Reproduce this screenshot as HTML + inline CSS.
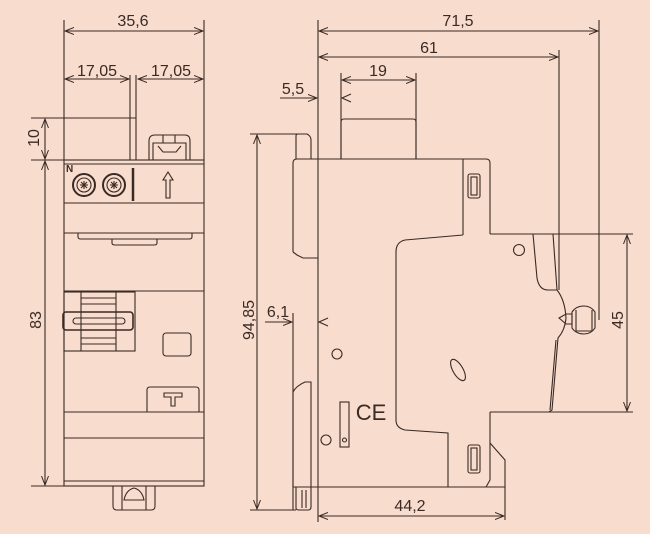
<!DOCTYPE html>
<html><head><meta charset="utf-8"><style>
html,body{margin:0;padding:0;background:#f8dccd;overflow:hidden}
svg{display:block}
text{font-family:"Liberation Sans",sans-serif;fill:#3a2a25;font-size:16px}
</style></head><body>
<svg width="650" height="534" viewBox="0 0 650 534" xmlns="http://www.w3.org/2000/svg">
<defs>
<marker id="a" markerWidth="10" markerHeight="8" refX="9" refY="4" orient="auto-start-reverse" markerUnits="userSpaceOnUse">
<path d="M0,0.5 L9,4 L0,7.5" fill="none" stroke="#3a2a25" stroke-width="1"/></marker>
</defs>
<rect width="650" height="534" fill="#f8dccd"/>
<g stroke="#3a2a25" stroke-width="1.1" fill="none">
<line x1="64" y1="20" x2="64" y2="160"/>
<line x1="204" y1="20" x2="204" y2="160"/>
<line x1="65" y1="31" x2="203" y2="31" marker-start="url(#a)" marker-end="url(#a)"/>
<line x1="65" y1="79" x2="129" y2="79" marker-start="url(#a)" marker-end="url(#a)"/>
<line x1="138" y1="79" x2="203" y2="79" marker-start="url(#a)" marker-end="url(#a)"/>
<line x1="130" y1="75" x2="130" y2="160"/>
<line x1="136" y1="75" x2="136" y2="160"/>
<line x1="31" y1="118" x2="136" y2="118"/>
<line x1="31" y1="160" x2="64" y2="160"/>
<line x1="31" y1="486" x2="64" y2="486"/>
<line x1="45" y1="119" x2="45" y2="159" marker-start="url(#a)" marker-end="url(#a)"/>
<line x1="45" y1="161" x2="45" y2="485" marker-start="url(#a)" marker-end="url(#a)"/>
<rect x="64" y="160" width="140" height="326"/>
<line x1="64" y1="164" x2="204" y2="164"/>
<line x1="64" y1="203" x2="204" y2="203"/>
<line x1="64" y1="233" x2="204" y2="233"/>
<path d="M78,233 V237 Q78,239 81,239 H189 Q192,239 192,237 V233"/>
<path d="M112,239 V243 Q112,245 115,245 H154 Q157,245 157,243 V239"/>
<circle cx="84" cy="185" r="11" stroke-width="2"/>
<circle cx="84" cy="185" r="7"/>
<circle cx="114" cy="185" r="11" stroke-width="2"/>
<circle cx="114" cy="185" r="7"/>
<path d="M80,185 H88 M84,181 V189 M81,182 L87,188 M87,182 L81,188 M110,185 H118 M114,181 V189 M111,182 L117,188 M117,182 L111,188"/>
<line x1="133" y1="168" x2="133" y2="201" stroke-width="2.5"/>
<path d="M168,172 L163,180 H166 V198 H170 V180 H173 Z"/>
<path d="M149,160 V141 Q149,135 155,135 H185 Q190,135 190,141 V160 M153,160 V143 H186 V160 M163,135 V143 M175,135 V143 M158,146 L163,152 H176 L181,146"/>
<line x1="64" y1="291" x2="204" y2="291"/>
<rect x="64" y="292" width="71" height="59"/>
<path d="M81,292 V351 M116,292 V351 M81,298 H116 M81,304 H116 M81,338 H116 M81,344 H116"/>
<rect x="63" y="312" width="70" height="18" rx="3" stroke-width="1.6"/>
<rect x="73" y="318" width="52" height="6" rx="3"/>
<rect x="163" y="333" width="28" height="23" rx="3"/>
<path d="M147,412 V390 Q147,387 150,387 H196 Q199,387 199,390 V412"/>
<path d="M164,393 H182 V397 H175 V406 H171 V397 H164 Z"/>
<line x1="64" y1="412" x2="204" y2="412"/>
<line x1="64" y1="438" x2="204" y2="438"/>
<line x1="64" y1="481" x2="204" y2="481"/>
<path d="M113,486 V506 Q113,510 117,510 H151 Q155,510 155,506 V486 M122,486 V510 M146,486 V510 M124,500 Q126,490 134,488 Q142,490 144,500 Z"/>

<line x1="318" y1="20" x2="318" y2="522"/>
<line x1="599" y1="20" x2="599" y2="320"/>
<line x1="559" y1="50" x2="559" y2="290"/>
<line x1="319" y1="31" x2="598" y2="31" marker-start="url(#a)" marker-end="url(#a)"/>
<line x1="319" y1="57" x2="558" y2="57" marker-start="url(#a)" marker-end="url(#a)"/>
<line x1="341" y1="73" x2="341" y2="159"/>
<line x1="416" y1="73" x2="416" y2="159"/>
<line x1="342" y1="80" x2="415" y2="80" marker-start="url(#a)" marker-end="url(#a)"/>
<line x1="280" y1="98" x2="317" y2="98" marker-end="url(#a)"/>
<path d="M351,94 L342,98 L351,102"/>
<path d="M341,159 V122 Q341,119 344,119 H413 Q416,119 416,122 V159"/>
<line x1="250" y1="134" x2="300" y2="134"/>
<line x1="250" y1="510" x2="296" y2="510"/>
<line x1="257" y1="135" x2="257" y2="509" marker-start="url(#a)" marker-end="url(#a)"/>
<line x1="265" y1="322" x2="292" y2="322" marker-end="url(#a)"/>
<path d="M328,318 L319,322 L328,326"/>
<line x1="293" y1="313" x2="293" y2="510"/>
<line x1="490" y1="234" x2="633" y2="234"/>
<line x1="549" y1="412" x2="633" y2="412"/>
<line x1="627" y1="235" x2="627" y2="411" marker-start="url(#a)" marker-end="url(#a)"/>
<line x1="505" y1="487" x2="505" y2="520"/>
<line x1="319" y1="516" x2="504" y2="516" marker-start="url(#a)" marker-end="url(#a)"/>
<path d="M293,252 V163 Q293,159 297,159 H486 Q490,159 490,163 V234"/>
<path d="M296,159 V136 Q296,134 298,134 H307 Q311,136 311,140 V159"/>
<path d="M293,252 L297,255 L303,258 H318"/>
<path d="M293,487 V392 Q296,386 305,382 L311,382 V487"/>
<path d="M296,487 V508 Q296,510 299,510 H308 Q311,510 311,507 V487 M302,490 V508 M306,490 V508"/>
<line x1="293" y1="487" x2="505" y2="487"/>
<line x1="463" y1="159" x2="463" y2="235"/>
<path d="M463,235 L405,240 Q396,242 396,252 V420 Q396,428 405,430 L448,433 V487"/>
<path d="M490,412 H549"/>
<path d="M490,412 V480 L486,487"/>
<path d="M490,443 L505,460 V487"/>
<rect x="468" y="174" width="12" height="24" rx="2"/>
<rect x="471" y="177" width="6" height="18"/>
<rect x="468" y="445" width="12" height="28" rx="2"/>
<rect x="471" y="448" width="6" height="22"/>
<path d="M533,234 L537,278 Q539,290 548,290 H557"/>
<path d="M553,234 L557,290 Q565,300 566,318 Q565,330 558,338 L552,410 L549,412"/>
<path d="M556,340 L550,410"/>
<path d="M559,318 L566,314 H572 V324 H566 Z"/>
<path d="M572,312 Q576,306 584,306 Q591,306 595,312 V328 Q591,334 584,334 Q576,334 572,328 Z"/>
<path d="M576,310 V331 H592 V310"/>
<circle cx="519" cy="250" r="5.5"/>
<circle cx="337" cy="354" r="5"/>
<circle cx="326" cy="440" r="5"/>
<rect x="340" y="402" width="9" height="45"/>
<circle cx="344.5" cy="440" r="2"/>
<ellipse cx="458" cy="370" rx="5" ry="12" transform="rotate(-30 458 370)"/>
</g>
<text x="133" y="26" text-anchor="middle">35,6</text>
<text x="97" y="76" text-anchor="middle">17,05</text>
<text x="171" y="76" text-anchor="middle">17,05</text>
<text x="66" y="172" style="font-size:10px;font-weight:bold">N</text>
<text transform="translate(39,138) rotate(-90)" text-anchor="middle">10</text>
<text transform="translate(41,320) rotate(-90)" text-anchor="middle">83</text>
<text x="458" y="26" text-anchor="middle">71,5</text>
<text x="429" y="53" text-anchor="middle">61</text>
<text x="378" y="76" text-anchor="middle">19</text>
<text x="293" y="94" text-anchor="middle">5,5</text>
<text transform="translate(254,320) rotate(-90)" text-anchor="middle">94,85</text>
<text x="278" y="317" text-anchor="middle">6,1</text>
<text transform="translate(623,320) rotate(-90)" text-anchor="middle">45</text>
<text x="410" y="511" text-anchor="middle">44,2</text>
<text x="371" y="420" text-anchor="middle" style="font-size:22px">CE</text>
</svg>
</body></html>
